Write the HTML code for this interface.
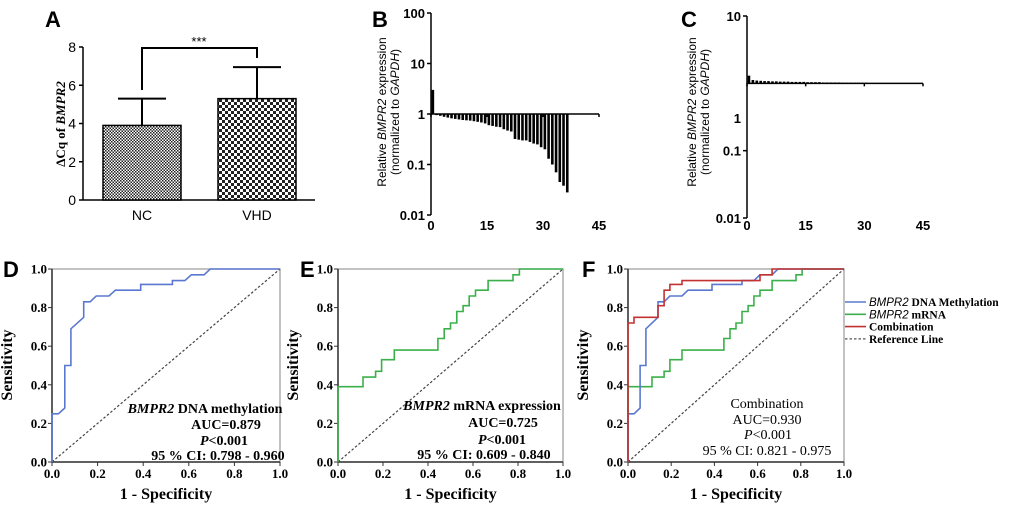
<!DOCTYPE html>
<html><head><meta charset="utf-8"><style>
body{margin:0;background:#fff;}
svg{display:block;}
.sans{font-family:"Liberation Sans",Arial,sans-serif;}
.serif{font-family:"Liberation Serif","Times New Roman",serif;}
</style></head><body>
<svg id="fig" width="1020" height="505" viewBox="0 0 1020 505" xmlns="http://www.w3.org/2000/svg">
<defs>
<pattern id="pfine" width="3" height="3" patternUnits="userSpaceOnUse"><rect width="3" height="3" fill="#fff"/><rect width="1.5" height="1.5" fill="#222"/><rect x="1.5" y="1.5" width="1.5" height="1.5" fill="#222"/></pattern>
<pattern id="pcoarse" width="6" height="6" patternUnits="userSpaceOnUse"><rect width="6" height="6" fill="#fff"/><rect width="3" height="3" fill="#222"/><rect x="3" y="3" width="3" height="3" fill="#222"/></pattern>
</defs>
<g id="gA"></g>
<g id="gB"></g>
<g id="gC"></g>
<g id="gD"></g>
<g id="gE"></g>
<g id="gF"></g>
</svg>
<script>
// Panel A data
const aCategories = ["NC", "VHD"];
const aMeans = [3.9, 5.3];
const aErrors = [1.4, 1.65];
const aTicks = [0, 2, 4, 6, 8];
// Panel B data
const bValues = [3, 0.95, 0.92, 0.88, 0.85, 0.82, 0.8, 0.78, 0.76, 0.75, 0.74, 0.72, 0.7, 0.68, 0.65, 0.6, 0.58, 0.56, 0.55, 0.5, 0.47, 0.45, 0.32, 0.31, 0.3, 0.3, 0.28, 0.26, 0.25, 0.22, 0.2, 0.13, 0.1, 0.07, 0.045, 0.038, 0.028];
const bYTicks = [100, 10, 1, 0.1, 0.01];
const bYTickLabels = ["100", "10", "1", "0.1", "0.01"];
const xTicks = [0, 15, 30, 45];
// Panel C data
const cValues = [1.3, 1.12, 1.1, 1.09, 1.08, 1.08, 1.07, 1.07, 1.06, 1.06, 1.06, 1.05, 1.05, 1.05, 1.05, 1.04, 1.04, 1.04, 1.04, 1.03, 1.03, 1.03, 1.03, 1.03, 1.02, 1.02, 1.02, 1.02, 1.02, 1.02, 1.02];
const cYTicks = [10, 0.1, 0.01];
// ROC data
const rocTicks = [0, 0.2, 0.4, 0.6, 0.8, 1.0];
const methFpr = [0,0,0.028,0.056,0.056,0.083,0.083,0.139,0.139,0.167,0.194,0.25,0.278,0.389,0.389,0.528,0.528,0.583,0.611,0.667,0.694,1];
const methTpr = [0,0.25,0.25,0.28,0.5,0.5,0.69,0.75,0.83,0.83,0.86,0.86,0.89,0.89,0.92,0.92,0.94,0.94,0.97,0.97,1,1];
const mrnaFpr = [0,0,0.111,0.111,0.167,0.167,0.194,0.194,0.25,0.25,0.444,0.444,0.472,0.472,0.5,0.5,0.528,0.528,0.556,0.556,0.583,0.583,0.611,0.611,0.667,0.667,0.778,0.778,0.806,0.806,1];
const mrnaTpr = [0,0.39,0.39,0.44,0.44,0.47,0.47,0.53,0.53,0.58,0.58,0.64,0.64,0.69,0.69,0.72,0.72,0.78,0.78,0.81,0.81,0.86,0.86,0.89,0.89,0.94,0.94,0.97,0.97,1,1];
const combFpr = [0,0,0.028,0.028,0.139,0.139,0.167,0.167,0.194,0.194,0.25,0.25,0.611,0.611,0.667,0.667,1];
const combTpr = [0,0.72,0.72,0.75,0.75,0.81,0.81,0.89,0.89,0.92,0.92,0.94,0.94,0.97,0.97,1,1];

const NS="http://www.w3.org/2000/svg";
function mk(parent, tag, attrs, text){
  const e=document.createElementNS(NS,tag);
  for(const k in attrs) e.setAttribute(k, attrs[k]);
  if(text!==undefined) e.textContent=text;
  parent.appendChild(e); return e;
}
function txt(parent, x, y, s, size, cls, anchor, extra){
  const t=mk(parent,'text',Object.assign({x:x,y:y,'font-size':size,'class':cls,'text-anchor':anchor||'middle'},extra||{}));
  t.innerHTML=s; return t;
}

// ---------- Panel A ----------
(function(){
  const g=document.getElementById('gA');
  const x0=83, yb=200, yt=47;
  const y=v=>yb-(v/8)*(yb-yt);
  const L=txt(g,45,27,'A',22,'sans','start',{'font-weight':'bold'});
   
  mk(g,'line',{x1:x0,y1:yt,x2:x0,y2:yb,stroke:'#000','stroke-width':1.5});
  mk(g,'line',{x1:x0,y1:yb,x2:315,y2:yb,stroke:'#000','stroke-width':1.5});
  aTicks.forEach(t=>{
    mk(g,'line',{x1:x0-4,y1:y(t),x2:x0,y2:y(t),stroke:'#000','stroke-width':1.5});
    const tl=txt(g,x0-7,y(t)+5,String(t),14,'sans','end');
     
  });
  const yl=txt(g,0,0,'ΔCq of <tspan font-style="italic">BMPR2</tspan>',13,'serif','middle',{transform:'translate(65,124) rotate(-90)','font-weight':'bold'});
   
  const bx=[103,218], bw=78, pats=['url(#pfine)','url(#pcoarse)'];
  aCategories.forEach((c,i)=>{
    const cx=bx[i]+bw/2;
    const eb=mk(g,'line',{x1:cx,y1:y(aMeans[i]),x2:cx,y2:y(aMeans[i]+aErrors[i]),stroke:'#000','stroke-width':2});
     
    mk(g,'line',{x1:cx-24,y1:y(aMeans[i]+aErrors[i]),x2:cx+24,y2:y(aMeans[i]+aErrors[i]),stroke:'#000','stroke-width':2});
    const r=mk(g,'rect',{x:bx[i],y:y(aMeans[i]),width:bw,height:yb-y(aMeans[i]),fill:pats[i],stroke:'#000','stroke-width':1.5});
     
    const cl=txt(g,cx,220,c,14,'sans');
     
  });
  const br=mk(g,'path',{d:'M142 90 V48 H257 V58',fill:'none',stroke:'#000','stroke-width':2});
   
  const st=txt(g,199,46,'***',13,'sans');
   
})();

// ---------- Panel B & C (log bar charts) ----------
function logPanel(gid, letter, lx, x0, yTop, yBot, vTop, vBot, values, yticks, ylabels, labelPos, xEnd, titleX){
  const g=document.getElementById(gid);
  const dec=Math.log10(vTop)-Math.log10(vBot);
  const y=v=>yTop+(Math.log10(vTop)-Math.log10(v))/dec*(yBot-yTop);
  const x=v=>x0+v/45*(xEnd-x0);
  const L=txt(g,lx,27,letter,22,'sans','start',{'font-weight':'bold'});
   
  mk(g,'line',{x1:x0,y1:yTop,x2:x0,y2:yBot,stroke:'#000','stroke-width':1.5});
  yticks.forEach((t,i)=>{
    mk(g,'line',{x1:x0-4,y1:y(t),x2:x0,y2:y(t),stroke:'#000','stroke-width':1.5});
    const ly=labelPos?labelPos[i]:y(t);
    const tl=txt(g,x0-6,ly+5,ylabels[i],13,'sans','end',{'font-weight':'bold'});
     
  });
  const by=y(1);
  values.forEach((v,i)=>{
    const bx=x(i+0.5);
    const r=mk(g,'rect',{x:bx-1.3,y:Math.min(by,y(v)),width:2.6,height:Math.max(1,Math.abs(y(v)-by)),fill:'#000'});
     
  });
  mk(g,'line',{x1:x0,y1:by,x2:xEnd,y2:by,stroke:'#000','stroke-width':1.5});
  xTicks.forEach(t=>{
    mk(g,'line',{x1:x(t),y1:by,x2:x(t),y2:by+3,stroke:'#000','stroke-width':1.5});
    const tl=txt(g,x(t),230,String(t),13,'sans','middle',{'font-weight':'bold'});
     
  });
  const t1=txt(g,0,0,'Relative <tspan font-style="italic">BMPR2</tspan> expression',12,'sans','middle',{transform:'translate('+titleX+',112) rotate(-90)'});
   
  const t2=txt(g,0,0,'(normalized to <tspan font-style="italic">GAPDH</tspan>)',12,'sans','middle',{transform:'translate('+(titleX+13)+',112) rotate(-90)'});
   
}
logPanel('gB','B',372,431,13,215,100,0.01,bValues,bYTicks,bYTickLabels,null,599,386);
logPanel('gC','C',681,747,16,218,10,0.01,cValues,cYTicks,["10","0.1","0.01"],null,923,696);
(function(){const g=document.getElementById('gC');
  const t=txt(g,741,123,'1',13,'sans','end',{'font-weight':'bold'});
   })();

// ---------- ROC panels ----------
function rocPanel(gid, letter, lx, x0, x1, series, annot, ax, legend){
  const g=document.getElementById(gid);
  const yT=269, yB=462;
  const X=v=>x0+v*(x1-x0), Y=v=>yB-v*(yB-yT);
  const L=txt(g,lx,277,letter,22,'sans','start',{'font-weight':'bold'});
   
  mk(g,'rect',{x:x0,y:yT,width:x1-x0,height:yB-yT,fill:'none',stroke:'#999','stroke-width':1.2});
  mk(g,'line',{x1:x0,y1:yT,x2:x0,y2:yB,stroke:'#333','stroke-width':1.5});
  mk(g,'line',{x1:x0,y1:yB,x2:x1,y2:yB,stroke:'#333','stroke-width':1.5});
  rocTicks.forEach(t=>{
    mk(g,'line',{x1:x0-4,y1:Y(t),x2:x0,y2:Y(t),stroke:'#333'});
    mk(g,'line',{x1:X(t),y1:yB,x2:X(t),y2:yB+4,stroke:'#333'});
    const a=txt(g,x0-5,Y(t)+4.5,t.toFixed(1),13,'serif','end',{'font-weight':'bold'});
     
    const b=txt(g,X(t),478,t.toFixed(1),13,'serif','middle',{'font-weight':'bold'});
     
  });
  const ref=mk(g,'line',{x1:X(0),y1:Y(0),x2:X(1),y2:Y(1),stroke:'#444','stroke-width':1.2,'stroke-dasharray':'2.5,2'});
   
  series.forEach(s=>{
    const d=s.fpr.map((f,i)=>(i?'L':'M')+X(f).toFixed(1)+' '+Y(s.tpr[i]).toFixed(1)).join(' ');
    const p=mk(g,'path',{d:d,fill:'none',stroke:s.color,'stroke-width':1.6});
     
  });
  const yl=txt(g,0,0,'Sensitivity',16,'serif','middle',{transform:'translate('+(x0-40)+',365) rotate(-90)','font-weight':'bold'});
   
  const xl=txt(g,(x0+x1)/2,499,'1 - Specificity',16,'serif','middle',{'font-weight':'bold'});
   
  annot.forEach((a,i)=>{
    const t=txt(g,a[0],a[1],a[2],14,'serif','middle',{'font-weight':ax});
     
  });
  if(legend){
    legend.forEach((l,i)=>{
      const yy=302+i*12.3;
      mk(g,'line',{x1:845,y1:yy,x2:866,y2:yy,stroke:l[0],'stroke-width':l[2]?1.2:1.6,'stroke-dasharray':l[2]?'2.5,2':'none'});
      const t=txt(g,869,yy+4,l[1],11.5,'serif','start',{'font-weight':'bold'});
       
    });
  }
}
const BLUE='#5a78d0', GREEN='#3bb04a', RED='#c33232';
rocPanel('gD','D',3,52,280,[{fpr:methFpr,tpr:methTpr,color:BLUE,name:'roc-curve-methylation'}],
 [[205,413,'<tspan font-style="italic">BMPR2</tspan> DNA methylation'],[226,429,'AUC=0.879'],[224,445,'<tspan font-style="italic">P</tspan>&lt;0.001'],[218,460,'95 % CI: 0.798 - 0.960']],'bold');
rocPanel('gE','E',300,338,563,[{fpr:mrnaFpr,tpr:mrnaTpr,color:GREEN,name:'roc-curve-mrna'}],
 [[482,410,'<tspan font-style="italic">BMPR2</tspan> mRNA expression'],[503,427,'AUC=0.725'],[502,444,'<tspan font-style="italic">P</tspan>&lt;0.001'],[484,459,'95 % CI: 0.609 - 0.840']],'bold');
rocPanel('gF','F',582,628,844,[{fpr:mrnaFpr,tpr:mrnaTpr,color:GREEN,name:'roc-curve-mrna'},{fpr:methFpr,tpr:methTpr,color:BLUE,name:'roc-curve-methylation'},{fpr:combFpr,tpr:combTpr,color:RED,name:'roc-curve-combination'}],
 [[767,408,'Combination'],[767,424,'AUC=0.930'],[768,439,'<tspan font-style="italic">P</tspan>&lt;0.001'],[767,455,'95 % CI: 0.821 - 0.975']],'normal',
 [[BLUE,'<tspan font-family="Liberation Sans" font-style="italic" font-weight="normal">BMPR2</tspan> DNA Methylation'],[GREEN,'<tspan font-family="Liberation Sans" font-style="italic" font-weight="normal">BMPR2</tspan> mRNA'],[RED,'Combination'],['#555','Reference Line',true]]);
</script>
</body></html>
